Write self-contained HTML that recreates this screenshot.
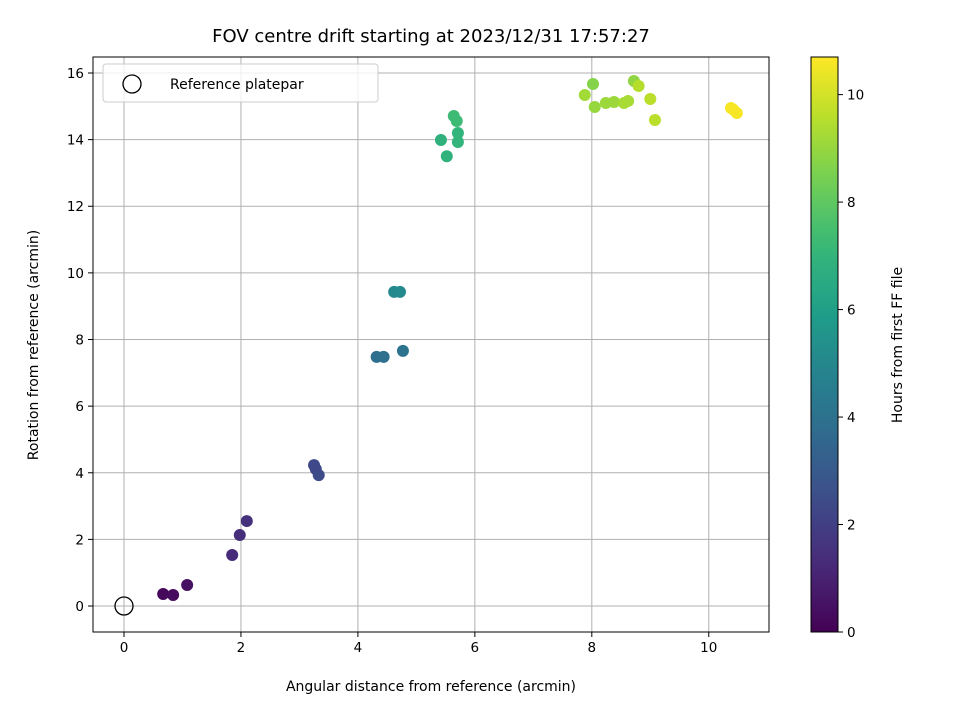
<!DOCTYPE html>
<html><head><meta charset="utf-8"><style>
body{margin:0;background:#fff}
svg text{font-family:"DejaVu Sans","Liberation Sans",sans-serif;fill:#000}
</style></head><body>
<svg id="c" width="960" height="720" xmlns="http://www.w3.org/2000/svg"></svg>
<script>
const xs=[0.67,0.84,1.08,1.85,1.98,2.10,3.25,3.28,3.33,4.32,4.44,4.77,4.62,4.72,5.52,5.42,5.64,5.69,5.71,5.71,7.88,8.02,8.05,8.24,8.38,8.55,8.62,8.72,8.80,9.00,9.08,10.38,10.48,10.42];
const ys=[0.36,0.33,0.63,1.53,2.13,2.55,4.23,4.11,3.93,7.48,7.48,7.66,9.43,9.43,13.50,13.99,14.71,14.56,14.20,13.93,15.34,15.67,14.98,15.10,15.13,15.10,15.16,15.76,15.61,15.22,14.59,14.95,14.80,14.90];
const hours=[0.2,0.3,0.5,1.3,1.4,1.5,2.3,2.3,2.4,3.9,4.0,4.1,5.0,5.1,6.9,6.8,7.3,7.3,7.0,7.0,9.2,8.7,9.0,9.1,9.1,9.3,9.3,8.9,9.5,9.6,9.6,10.6,10.6,10.6];
const xTicks=[0,2,4,6,8,10], yTicks=[0,2,4,6,8,10,12,14,16], cTicks=[0,2,4,6,8,10];
const L=93,R=769,T=57,B=632,xmin=-0.53,xmax=11.03,ymin=-0.78,ymax=16.48,cmax=10.7;
const X=v=>L+(v-xmin)/(xmax-xmin)*(R-L), Y=v=>B-(v-ymin)/(ymax-ymin)*(B-T);
const vir=[[68,1,84],[72,40,120],[62,74,137],[49,104,142],[38,130,142],[31,158,137],[53,183,121],[110,206,88],[181,222,43],[253,231,37]];
function col(t){t=Math.max(0,Math.min(1,t))*9;const i=Math.min(8,Math.floor(t)),f=t-i,a=vir[i],b=vir[i+1];return `rgb(${a.map((v,k)=>Math.round(v+(b[k]-v)*f)).join(',')})`;}
const svg=document.getElementById('c');const NS='http://www.w3.org/2000/svg';
function el(tag,at,name,txt){const e=document.createElementNS(NS,tag);for(const k in at)e.setAttribute(k,at[k]);


if(txt!=null)e.textContent=txt;svg.appendChild(e);return e;}
el('text',{x:431,y:42,'text-anchor':'middle','font-size':18},'chart-title','FOV centre drift starting at 2023/12/31 17:57:27');
xTicks.forEach(t=>{const x=X(t);el('line',{x1:x,x2:x,y1:T,y2:B,stroke:'#b0b0b0','stroke-width':1},'x-grid-line');
el('line',{x1:x,x2:x,y1:B,y2:B+5,stroke:'#000'},'x-tick');el('text',{x:x,y:B+20,'text-anchor':'middle','font-size':13.5},'x-tick-label',t);});
yTicks.forEach(t=>{const y=Y(t);el('line',{x1:L,x2:R,y1:y,y2:y,stroke:'#b0b0b0','stroke-width':1},'y-grid-line');
el('line',{x1:L-5,x2:L,y1:y,y2:y,stroke:'#000'},'y-tick');el('text',{x:L-9,y:y+5,'text-anchor':'end','font-size':13.5},'y-tick-label',t);});
el('text',{x:431,y:691,'text-anchor':'middle','font-size':14},'x-axis-title','Angular distance from reference (arcmin)');
el('text',{x:38,y:345,'text-anchor':'middle','font-size':14,transform:'rotate(-90 38 345)'},'y-axis-title','Rotation from reference (arcmin)');
xs.forEach((v,i)=>el('circle',{cx:X(v),cy:Y(ys[i]),r:6,fill:col(hours[i]/cmax)},'data-point'));
el('circle',{cx:X(0),cy:Y(0),r:9,fill:'none',stroke:'#000','stroke-width':1.3},'reference-point');
el('rect',{x:L,y:T,width:R-L,height:B-T,fill:'none',stroke:'#000','stroke-width':1},'plot-frame');
el('rect',{x:103,y:64,width:275,height:38,rx:3,fill:'#fff','fill-opacity':0.8,stroke:'#ccc'},'legend-box');
el('circle',{cx:132,cy:84,r:9,fill:'none',stroke:'#000','stroke-width':1.3},'legend-marker');
el('text',{x:170,y:89,'font-size':14},'legend-label','Reference platepar');
const defs=el('defs',{},'colorbar-defs');const g=document.createElementNS(NS,'linearGradient');g.setAttribute('id','vg');g.setAttribute('x1','0');g.setAttribute('y1','1');g.setAttribute('x2','0');g.setAttribute('y2','0');
for(let i=0;i<=20;i++){const s=document.createElementNS(NS,'stop');s.setAttribute('offset',i/20);s.setAttribute('stop-color',col(i/20));g.appendChild(s);}defs.appendChild(g);
const CL=811,CR=838;
el('rect',{x:CL,y:T,width:CR-CL,height:B-T,fill:'url(#vg)',stroke:'#000','stroke-width':1},'colorbar');
cTicks.forEach(t=>{const y=B-t/cmax*(B-T);el('line',{x1:CR,x2:CR+5,y1:y,y2:y,stroke:'#000'},'colorbar-tick');
el('text',{x:CR+9,y:y+5,'font-size':13.5},'colorbar-tick-label',t);});
el('text',{x:902,y:345,'text-anchor':'middle','font-size':14,transform:'rotate(-90 902 345)'},'colorbar-title','Hours from first FF file');
</script></body></html>
